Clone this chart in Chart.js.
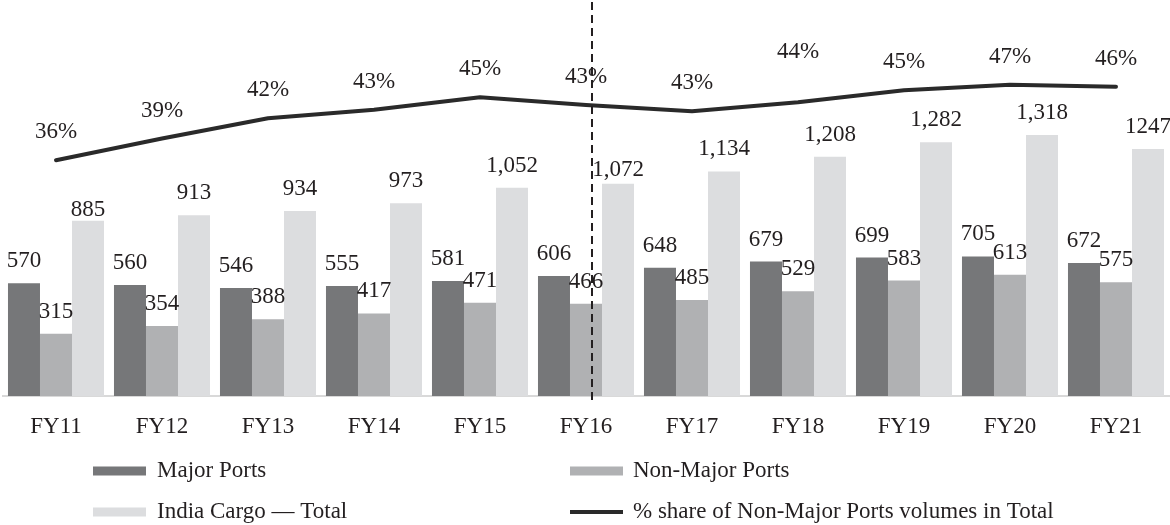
<!DOCTYPE html>
<html>
<head>
<meta charset="utf-8">
<script src="https://cdn.jsdelivr.net/npm/chart.js@4.4.0/dist/chart.umd.min.js"></script>
<style>
html,body{margin:0;padding:0;background:#ffffff;}
#wrap{width:1170px;height:525px;}
</style>
</head>
<body>
<div id="wrap"><canvas id="c" width="1170" height="525"></canvas></div>
<script>
const categories = ['FY11','FY12','FY13','FY14','FY15','FY16','FY17','FY18','FY19','FY20','FY21'];
const majorPorts = [570,560,546,555,581,606,648,679,699,705,672];
const nonMajorPorts = [315,354,388,417,471,466,485,529,583,613,575];
const indiaCargoTotal = [885,913,934,973,1052,1072,1134,1208,1282,1318,1247];
const majorLabels = ['570','560','546','555','581','606','648','679','699','705','672'];
const nonMajorLabels = ['315','354','388','417','471','466','485','529','583','613','575'];
const totalLabels = ['885','913','934','973','1,052','1,072','1,134','1,208','1,282','1,318','1247'];
const nonMajorShare = [36.0,39.1,42.0,43.2,45.0,43.9,43.0,44.3,46.0,46.8,46.5];
const shareLabels = ['36%','39%','42%','43%','45%','43%','43%','44%','45%','47%','46%'];

const FONT = '"Liberation Serif", "Times New Roman", serif';
const FSIZE = 23;
const TEXT = '#231f20';

const labelPlugin = {
  id: 'labels',
  afterDatasetsDraw(chart) {
    const ctx = chart.ctx;
    ctx.save();
    ctx.font = FSIZE + 'px ' + FONT;
    ctx.fillStyle = TEXT;
    ctx.textAlign = 'center';
    ctx.textBaseline = 'alphabetic';
    const barLabelSets = [majorLabels, nonMajorLabels, totalLabels];
    for (let d = 0; d < 3; d++) {
      const meta = chart.getDatasetMeta(d);
      meta.data.forEach((el, i) => {
        let lift = 16;
        if (d === 2 && i === 0) lift = 5;
        if (d === 2 && i === 5) lift = 8;
        ctx.fillText(barLabelSets[d][i], el.x, el.y - lift);
      });
    }
    const lineMeta = chart.getDatasetMeta(3);
    lineMeta.data.forEach((el, i) => {
      const lift = (i === 7) ? 44 : 22;
      ctx.fillText(shareLabels[i], el.x, el.y - lift);
    });
    // dashed divider in FY16
    const xs = chart.scales.x;
    const xd = xs.getPixelForValue(5) + 6;
    ctx.strokeStyle = '#231f20';
    ctx.lineWidth = 2;
    ctx.setLineDash([8, 5]);
    ctx.beginPath();
    ctx.moveTo(xd, 2);
    ctx.lineTo(xd, chart.chartArea.bottom + 8);
    ctx.stroke();
    ctx.restore();
  },
  afterDraw(chart) {
    const ctx = chart.ctx;
    ctx.save();
    ctx.font = FSIZE + 'px ' + FONT;
    ctx.fillStyle = TEXT;
    ctx.textAlign = 'left';
    ctx.textBaseline = 'middle';
    const ds = chart.data.datasets;
    const slots = [
      {d: 0, bx: 93, tx: 157, y: 471},
      {d: 1, bx: 570, tx: 633, y: 471},
      {d: 2, bx: 93, tx: 157, y: 512},
      {d: 3, bx: 570, tx: 633, y: 512}
    ];
    slots.forEach(s => {
      const set = ds[s.d];
      if (set.type === 'line') {
        ctx.fillStyle = set.borderColor;
        ctx.fillRect(s.bx, s.y - 2, 53, 4);
      } else {
        ctx.fillStyle = set.backgroundColor;
        ctx.fillRect(s.bx, s.y - 4.5, 53, 9);
      }
      ctx.fillStyle = TEXT;
      ctx.fillText(set.label, s.tx, s.y);
    });
    ctx.restore();
  }
};

new Chart(document.getElementById('c'), {
  type: 'bar',
  data: {
    labels: categories,
    datasets: [
      {label: 'Major Ports', data: majorPorts, backgroundColor: '#767779', categoryPercentage: 0.906, barPercentage: 1.0, order: 1},
      {label: 'Non-Major Ports', data: nonMajorPorts, backgroundColor: '#b0b1b3', categoryPercentage: 0.906, barPercentage: 1.0, order: 1},
      {label: 'India Cargo — Total', data: indiaCargoTotal, backgroundColor: '#dcdddf', categoryPercentage: 0.906, barPercentage: 1.0, order: 1},
      {type: 'line', label: '% share of Non-Major Ports volumes in Total', data: nonMajorShare, yAxisID: 'y1',
       borderColor: '#2a2a2a', backgroundColor: '#2a2a2a', borderWidth: 4, pointRadius: 0, fill: false,
       tension: 0, borderJoinStyle: 'round', borderCapStyle: 'round', order: 0}
    ]
  },
  options: {
    responsive: false,
    animation: false,
    devicePixelRatio: 1,
    layout: {padding: {left: 3, right: 1, top: 0, bottom: 0}},
    plugins: {legend: {display: false}, tooltip: {enabled: false}},
    scales: {
      x: {
        grid: {display: false, drawTicks: false},
        border: {display: true, color: '#d9d9d9', width: 2},
        ticks: {color: TEXT, font: {family: FONT, size: FSIZE}, padding: 17, maxRotation: 0, autoSkip: false},
        afterFit(s) { s.height = 129; }
      },
      y: {display: false, min: 0, max: 2000},
      y1: {display: false, min: 2.3, max: 58.9, position: 'right'}
    }
  },
  plugins: [labelPlugin]
});
</script>
</body>
</html>
